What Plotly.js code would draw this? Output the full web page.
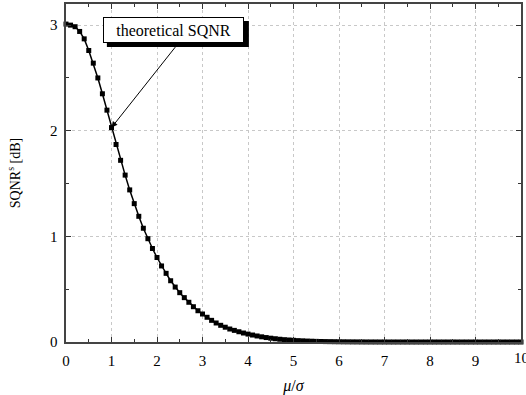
<!DOCTYPE html>
<html>
<head>
<meta charset="utf-8">
<script src="https://cdn.plot.ly/plotly-3.0.1.min.js"></script>
<style>html,body{margin:0;padding:0;background:#fff;}#chart{width:526px;height:395px;}</style>
</head>
<body>
<div id="chart"></div>
<script>
const muOverSigma = [
  0.0,0.1,0.2,0.3,0.4,0.5,0.6,0.7,0.8,0.9,
  1.0,1.1,1.2,1.3,1.4,1.5,1.6,1.7,1.8,1.9,
  2.0,2.1,2.2,2.3,2.4,2.5,2.6,2.7,2.8,2.9,
  3.0,3.1,3.2,3.3,3.4,3.5,3.6,3.7,3.8,3.9,
  4.0,4.1,4.2,4.3,4.4,4.5,4.6,4.7,4.8,4.9,
  5.0,5.1,5.2,5.3,5.4,5.5,5.6,5.7,5.8,5.9,
  6.0,6.1,6.2,6.3,6.4,6.5,6.6,6.7,6.8,6.9,
  7.0,7.1,7.2,7.3,7.4,7.5,7.6,7.7,7.8,7.9,
  8.0,8.1,8.2,8.3,8.4,8.5,8.6,8.7,8.8,8.9,
  9.0,9.1,9.2,9.3,9.4,9.5,9.6,9.7,9.8,9.9,
  10.0
];
const sqnrDb = [
  3.01,3.00,2.985,2.94,2.87,2.76,2.64,2.50,2.35,2.195,
  2.03,1.87,1.72,1.58,1.44,1.31,1.19,1.077,0.978,0.885,
  0.80,0.72,0.65,0.58,0.52,0.467,0.42,0.376,0.334,0.296,
  0.265,0.234,0.205,0.18,0.158,0.14,0.123,0.11,0.097,0.085,
  0.075,0.066,0.057,0.049,0.042,0.036,0.031,0.026,0.022,0.019,
  0.016,0.013,0.011,0.009,0.0075,0.006,0.005,0.004,0.0033,0.0027,
  0.0022,0.0018,0.0014,0.0011,0.0009,0.0007,0.0005,0.0004,0.0003,0.0002,
  0.0002,0.0001,0.0001,0.0001,0.0001,0,0,0,0,0,
  0,0,0,0,0,0,0,0,0,0,
  0,0,0,0,0,0,0,0,0,0,
  0
];
const xTicks = [0,1,2,3,4,5,6,7,8,9,10];
const yTicks = [0,1,2,3];
const annotationText = 'theoretical SQNR';
const arrowPoint = {x: 1.0, y: 2.03};
const labelPos = {x: 2.36, y: 2.955};

const serif = 'Liberation Serif';

const trace = {
  x: muOverSigma,
  y: sqnrDb,
  type: 'scatter',
  mode: 'lines+markers',
  line: {color: '#000', width: 1.5},
  marker: {symbol: 'square', size: 5, color: '#000'},
  cliponaxis: false,
  hoverinfo: 'none',
  showlegend: false
};

const axisCommon = {
  showline: true,
  linecolor: '#444',
  linewidth: 1.6,
  mirror: 'ticks',
  ticks: 'inside',
  ticklen: 5,
  tickwidth: 1,
  tickcolor: '#333',
  showgrid: true,
  gridcolor: '#c8c8c8',
  griddash: 'dot',
  gridwidth: 1,
  zeroline: false,
  ticklabelstandoff: 4,
  tickfont: {family: serif, size: 15, color: '#000'}
};

const lastX = xTicks[xTicks.length - 1];

const layout = {
  width: 526,
  height: 395,
  margin: {l: 66, r: 5, t: 4, b: 53},
  paper_bgcolor: '#fff',
  plot_bgcolor: '#fff',
  font: {family: serif, color: '#000'},
  xaxis: Object.assign({}, axisCommon, {
    range: [0, 10],
    tickvals: xTicks.slice(0, -1),
    ticktext: xTicks.slice(0, -1).map(String),
    minor: {dtick: 0.5, ticks: 'inside', ticklen: 3, tickcolor: '#333', showgrid: false},
    title: {text: '<i>μ</i>/<i>σ</i>', font: {family: serif, size: 16}, standoff: 18}
  }),
  yaxis: Object.assign({}, axisCommon, {
    range: [0, 3.2],
    tickvals: yTicks,
    ticktext: yTicks.map(String),
    minor: {dtick: 0.5, ticks: 'inside', ticklen: 3, tickcolor: '#333', showgrid: false},
    title: {text: 'SQNR<sup>s</sup> [dB]', font: {family: serif, size: 14}, standoff: 26}
  }),
  shapes: [
    {
      type: 'rect', xref: 'x', yref: 'y',
      xsizemode: 'pixel', ysizemode: 'pixel',
      xanchor: labelPos.x, yanchor: labelPos.y,
      x0: -66.5, x1: 75.5, y0: -17, y1: 9,
      fillcolor: '#000', line: {width: 0}, layer: 'above'
    }
  ],
  annotations: [
    {
      x: lastX, y: 0, xref: 'x', yref: 'paper',
      text: String(lastX), showarrow: false, yanchor: 'top', yshift: -6,
      font: {family: serif, size: 15, color: '#000'}
    },
    {
      x: arrowPoint.x, y: arrowPoint.y, xref: 'x', yref: 'y',
      text: '', showarrow: true, arrowhead: 2, arrowsize: 1.2, arrowwidth: 1,
      arrowcolor: '#000', ax: 65, ay: -82, standoff: 0
    },
    {
      x: labelPos.x, y: labelPos.y, xref: 'x', yref: 'y',
      text: annotationText, showarrow: false, width: 133, height: 18,
      font: {family: serif, size: 16, color: '#000'},
      bgcolor: '#fff', bordercolor: '#000', borderwidth: 1, borderpad: 3
    }
  ]
};

Plotly.newPlot('chart', [trace], layout, {staticPlot: true, displayModeBar: false});
</script>
</body>
</html>
